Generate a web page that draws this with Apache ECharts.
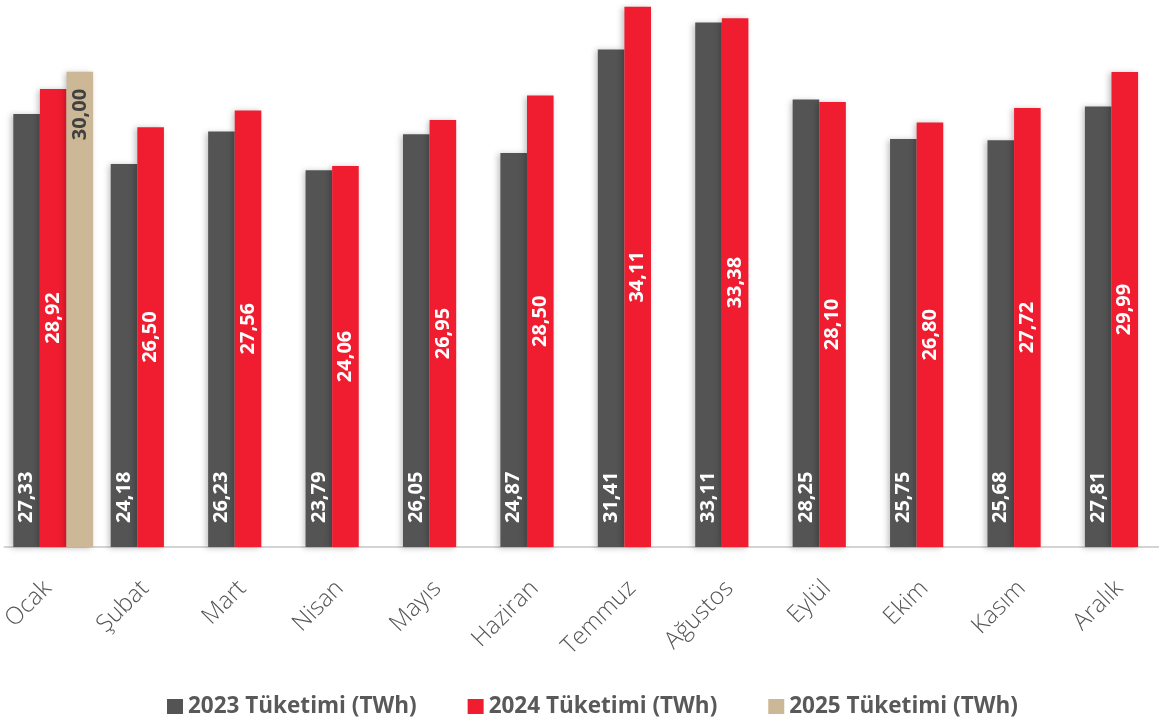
<!DOCTYPE html>
<html>
<head>
<meta charset="utf-8">
<script src="https://cdn.jsdelivr.net/npm/echarts@6/dist/echarts.min.js"></script>
<style>
html,body{margin:0;padding:0;background:#fff;}
#chart{width:1159px;height:718px;}
</style>
</head>
<body>
<div id="chart"></div>
<script>
// aylar
var months = ['Ocak','Şubat','Mart','Nisan','Mayıs','Haziran','Temmuz','Ağustos','Eylül','Ekim','Kasım','Aralık'];
// tüketim (TWh)
var tuketim2023 = [27.33,24.18,26.23,23.79,26.05,24.87,31.41,33.11,28.25,25.75,25.68,27.81];
var tuketim2024 = [28.92,26.50,27.56,24.06,26.95,28.50,34.11,33.38,28.10,26.80,27.72,29.99];
var tuketim2025 = [30.00,'-','-','-','-','-','-','-','-','-','-','-'];
var seriesNames = ['2023 Tüketimi (TWh)','2024 Tüketimi (TWh)','2025 Tüketimi (TWh)'];

var chart = echarts.init(document.getElementById('chart'));

function fmt(p) {
	return p.value.toFixed(2).replace('.', ',');
}

// etiket ayarları
function lbl(pos, align, color, dist) {
	return {
		show: true,
		position: pos,
		distance: dist,
		rotate: 90,
		align: align,
		verticalAlign: 'middle',
		color: color,
		fontFamily: 'Open Sans',
		fontWeight: 'bold',
		fontSize: 20,
		formatter: fmt
	};
}

var shadow = {shadowColor: 'rgba(0,0,0,0.25)', shadowBlur: 6, shadowOffsetX: -2, shadowOffsetY: 1};

var option = {
	animation: false,
	grid: {left: 4.5, top: 6.7, width: 1169, bottom: 171, outerBoundsMode: 'none', containLabel: false},
	legend: {
		top: 695,
		left: 167,
		padding: 0,
		itemWidth: 16,
		itemHeight: 15,
		itemGap: 51,
		icon: 'rect',
		textStyle: {fontFamily: 'Open Sans', fontWeight: 'bold', fontSize: 22.5, color: '#595959'},
		data: seriesNames
	},
	xAxis: {
		type: 'category',
		data: months,
		axisLine: {lineStyle: {color: '#d4d4d4', width: 2}},
		axisTick: {show: false},
		axisLabel: {
			rotate: 45,
			margin: 32,
			padding: [0, 8, 0, 0],
			interval: 0,
			color: '#555555',
			fontFamily: 'Open Sans',
			fontWeight: 300,
			fontSize: 24
		}
	},
	yAxis: {
		type: 'value',
		min: 0,
		max: 'dataMax',
		show: false,
		splitLine: {show: false}
	},
	series: [
		{
			name: seriesNames[0], type: 'bar', data: tuketim2023,
			barWidth: 26.6, barGap: '0%',
			itemStyle: Object.assign({color: '#545454'}, shadow),
			label: lbl('insideBottom', 'left', '#ffffff', 24)
		},
		{
			name: seriesNames[1], type: 'bar', data: tuketim2024,
			barWidth: 26.6, barGap: '0%',
			itemStyle: Object.assign({color: '#f01c2f'}, shadow),
			label: lbl('inside', 'center', '#ffffff', 0)
		},
		{
			name: seriesNames[2], type: 'bar', data: tuketim2025,
			barWidth: 26.6, barGap: '0%',
			itemStyle: Object.assign({color: '#ccb896'}, shadow),
			label: lbl('insideTop', 'right', '#404040', 17)
		}
	]
};
chart.setOption(option);
</script>
</body>
</html>
